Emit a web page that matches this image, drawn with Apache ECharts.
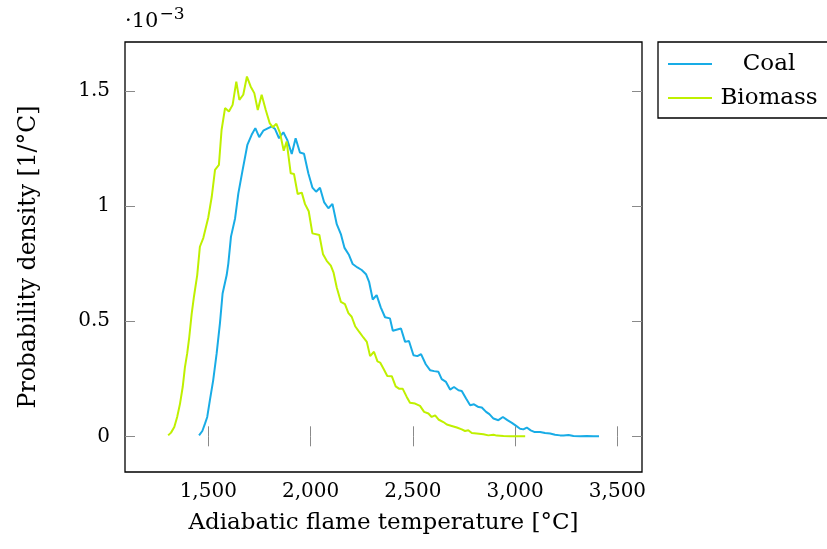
<!DOCTYPE html>
<html><head><meta charset="utf-8">
<script src="https://cdn.jsdelivr.net/npm/echarts@6/dist/echarts.min.js"></script>
<style>html,body{margin:0;padding:0;background:#fff}#c{width:827px;height:549px}</style>
</head><body><div id="c"></div>
<script>
// Temperature [°C] and probability density [10^-3 1/°C]
var coalX = [1455,1471,1484,1495,1508,1524,1541,1557,1570,1590,1598,1611,1631,1647,1668,1691,1712,1730,1749,1769,1793,1810,1826,1846,1867,1886,1908,1927,1948,1968,1989,2009,2027,2046,2066,2087,2107,2128,2148,2166,2188,2206,2229,2250,2271,2286,2304,2323,2343,2364,2388,2402,2424,2442,2462,2481,2503,2522,2540,2563,2584,2604,2625,2641,2662,2682,2701,2723,2739,2760,2780,2799,2821,2837,2858,2874,2894,2918,2940,2962,2984,3005,3024,3040,3057,3076,3093,3122,3146,3171,3195,3220,3237,3261,3285,3318,3350,3383,3410];
var coalY = [0.004,0.023,0.055,0.084,0.157,0.243,0.360,0.490,0.620,0.700,0.750,0.867,0.946,1.055,1.157,1.265,1.309,1.338,1.299,1.327,1.338,1.345,1.335,1.294,1.320,1.287,1.226,1.294,1.232,1.227,1.142,1.080,1.062,1.079,1.017,0.990,1.009,0.921,0.878,0.818,0.787,0.748,0.733,0.722,0.704,0.671,0.594,0.613,0.560,0.517,0.512,0.458,0.464,0.468,0.410,0.414,0.352,0.348,0.357,0.313,0.287,0.283,0.280,0.248,0.236,0.203,0.214,0.200,0.197,0.164,0.135,0.139,0.127,0.125,0.106,0.096,0.077,0.070,0.084,0.070,0.058,0.045,0.033,0.030,0.038,0.026,0.019,0.019,0.014,0.012,0.007,0.004,0.004,0.006,0.001,0,0.001,0,0];
var bioX = [1304,1318,1334,1348,1362,1375,1386,1397,1407,1419,1430,1446,1459,1476,1489,1500,1517,1533,1552,1565,1582,1601,1619,1637,1652,1671,1689,1707,1725,1742,1761,1781,1800,1815,1833,1851,1869,1883,1903,1919,1937,1957,1973,1991,2009,2043,2061,2079,2099,2112,2128,2148,2168,2185,2201,2218,2238,2258,2275,2291,2310,2327,2340,2356,2375,2397,2416,2432,2450,2470,2486,2511,2535,2555,2576,2592,2609,2625,2649,2666,2690,2715,2739,2755,2771,2788,2812,2845,2869,2894,2910,2943,2975,3049];
var bioY = [0.004,0.016,0.040,0.084,0.142,0.214,0.300,0.360,0.430,0.533,0.606,0.700,0.823,0.862,0.910,0.950,1.040,1.157,1.178,1.330,1.425,1.410,1.439,1.540,1.461,1.483,1.562,1.519,1.490,1.417,1.483,1.417,1.360,1.342,1.357,1.316,1.240,1.280,1.142,1.139,1.052,1.058,1.008,0.977,0.881,0.874,0.790,0.762,0.741,0.712,0.646,0.584,0.574,0.535,0.519,0.478,0.453,0.429,0.410,0.348,0.367,0.325,0.320,0.294,0.262,0.261,0.217,0.207,0.207,0.171,0.146,0.142,0.132,0.106,0.099,0.084,0.091,0.073,0.062,0.051,0.045,0.038,0.030,0.023,0.026,0.014,0.012,0.009,0.004,0.007,0.003,0.001,0,0];
var xTicks = [1500,2000,2500,3000,3500];
var yTicks = [0,0.5,1,1.5];
var seriesNames = ['Coal','Biomass'];

function pairs(xs, ys){ return xs.map(function(x,i){ return [x, ys[i]]; }); }
var FONT = 'DejaVu Serif';
var tickStyle = {show:true, inside:true, length:10, lineStyle:{color:'#8a8a8a', width:1}};
var chart = echarts.init(document.getElementById('c'), null, {renderer:'canvas'});
chart.setOption({
  animation:false,
  backgroundColor:'#fff',
  textStyle:{fontFamily:FONT},
  grid:{left:125, right:185, top:42, bottom:77, show:true, borderColor:'#000', borderWidth:1.3, backgroundColor:'transparent'},
  xAxis:[{
    type:'value', min:1093, max:3620, position:'bottom',
    name:'Adiabatic flame temperature [°C]', nameLocation:'middle', nameGap:40,
    nameTextStyle:{fontFamily:FONT, fontSize:23, color:'#000'},
    axisLine:{show:false}, splitLine:{show:false},
    axisTick:Object.assign({customValues:xTicks}, tickStyle),
    axisLabel:{customValues:xTicks, fontFamily:FONT, fontSize:20, color:'#000', margin:10,
      formatter:function(v){ return String(v).replace(/\B(?=(\d{3})+(?!\d))/g, ','); }}
  },{
    type:'value', min:1093, max:3620, position:'top',
    axisLine:{show:false}, splitLine:{show:false},
    axisTick:Object.assign({customValues:xTicks}, tickStyle),
    axisLabel:{show:false}
  }],
  yAxis:[{
    type:'value', min:-0.155, max:1.712, position:'left',
    name:'Probability density [1/°C]', nameLocation:'middle', nameGap:84, nameRotate:90,
    nameTextStyle:{fontFamily:FONT, fontSize:23.5, color:'#000'},
    axisLine:{show:false}, splitLine:{show:false},
    axisTick:Object.assign({customValues:yTicks}, tickStyle),
    axisLabel:{customValues:yTicks, fontFamily:FONT, fontSize:20, color:'#000', margin:15,
      formatter:function(v){ return String(v); }}
  },{
    type:'value', min:-0.155, max:1.712, position:'right',
    axisLine:{show:false}, splitLine:{show:false},
    axisTick:Object.assign({customValues:yTicks}, tickStyle),
    axisLabel:{show:false}
  }],
  legend:{
    left:658, top:42, orient:'vertical', itemGap:0,
    padding:[5,20,3,10], borderColor:'#000', borderWidth:1.3, backgroundColor:'#fff',
    icon:'rect', itemWidth:44, itemHeight:2,
    formatter:function(n){ return '{t|'+n+'}'; },
    textStyle:{fontFamily:FONT, fontSize:23, color:'#000', lineHeight:34,
      rich:{t:{fontFamily:FONT, fontSize:23, width:104, lineHeight:34, align:'center'}}},
    data:seriesNames
  },
  graphic:[{
    type:'text', left:125, top:6,
    style:{text:'{a|·10}{b|−3}', rich:{a:{fontFamily:FONT, fontSize:21, fill:'#000', verticalAlign:'bottom'}, b:{fontFamily:FONT, fontSize:17, fill:'#000', verticalAlign:'top', padding:[0,0,9,1]}}}
  }],
  series:[
    {name:seriesNames[0], type:'line', data:pairs(coalX, coalY), symbol:'none', lineStyle:{color:'#18ace6', width:2}, itemStyle:{color:'#18ace6'}},
    {name:seriesNames[1], type:'line', data:pairs(bioX, bioY), symbol:'none', lineStyle:{color:'#bff000', width:2}, itemStyle:{color:'#bff000'}}
  ]
});
</script></body></html>
